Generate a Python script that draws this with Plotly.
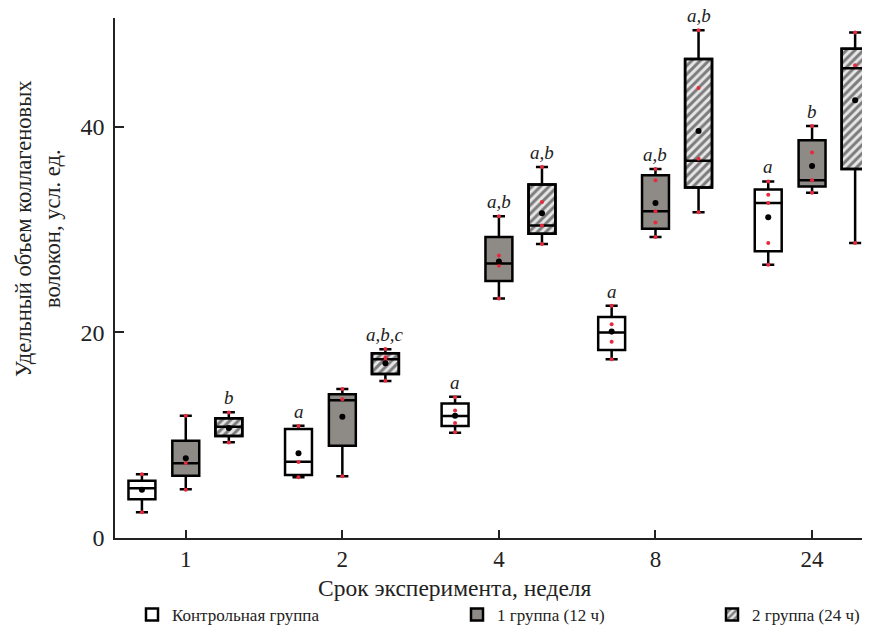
import plotly.graph_objects as go

weeks = ["1", "2", "4", "8", "24"]

ctrl_low = [2.5, 5.9, 10.25, 17.4, 26.6]
ctrl_q1 = [3.77, 6.13, 10.9, 18.3, 27.9]
ctrl_med = [4.84, 7.43, 11.87, 20.0, 32.6]
ctrl_q3 = [5.58, 10.6, 13.1, 21.5, 33.9]
ctrl_up = [6.2, 10.93, 13.75, 22.6, 34.7]
ctrl_mean = [4.7, 8.24, 11.9, 20.1, 31.2]
ctrl_pts = [[6.2, 4.7, 2.5], [10.9, 7.4, 5.9], [13.7, 12.4, 11.2, 10.3],
            [22.6, 20.8, 20.0, 19.1, 17.4], [34.7, 33.4, 32.6, 28.7, 26.6]]
ctrl_sig = ["", "a", "a", "a", "a"]

g1_low = [4.74, 6.0, 23.3, 29.3, 33.6]
g1_q1 = [6.06, 8.98, 25.0, 30.1, 34.2]
g1_med = [7.27, 13.4, 26.7, 31.8, 34.8]
g1_q3 = [9.47, 14.0, 29.3, 35.3, 38.7]
g1_up = [11.9, 14.5, 31.3, 35.9, 40.1]
g1_mean = [7.76, 11.8, 26.9, 32.6, 36.2]
g1_pts = [[11.9, 7.3, 4.7], [14.5, 13.5, 11.8, 6.0], [31.3, 27.5, 26.5, 23.3],
          [35.9, 34.8, 31.8, 30.7, 29.3], [40.1, 37.5, 34.8, 33.6]]
g1_sig = ["", "", "a,b", "a,b", "b"]

g2_low = [9.31, 15.28, 28.6, 31.7, 28.7]
g2_q1 = [9.93, 15.96, 29.6, 34.1, 35.9]
g2_med = [10.83, 17.4, 30.4, 36.7, 45.7]
g2_q3 = [11.65, 17.97, 34.4, 46.6, 47.6]
g2_up = [12.23, 18.36, 36.1, 49.4, 49.2]
g2_mean = [10.7, 17.0, 31.6, 39.6, 42.6]
g2_pts = [[12.2, 10.8, 9.3], [18.4, 17.6, 17.3, 15.3], [36.1, 32.7, 30.4, 28.6],
          [49.4, 43.8, 36.9, 31.7], [49.2, 46.0, 42.6, 28.7]]
g2_sig = ["b", "a,b,c", "a,b", "a,b", ""]

names = ["Контрольная группа", "1 группа (12 ч)", "2 группа (24 ч)"]

FONT = "Liberation Serif, Times New Roman, DejaVu Serif, serif"
# page has an 8px body margin: figure drawn at (8, 8)
PAGE_OFF = 8
W, H = 870 - PAGE_OFF, 634 - PAGE_OFF
PL, PT, PR, PBOT = 115, 18, 870, 538  # plot area in page pixels
L, T = PL - PAGE_OFF, PT - PAGE_OFF
R = W - (PR - PAGE_OFF)
B = H - (PBOT - PAGE_OFF)
pw = PR - PL
ph = PBOT - PT


def xp(X):
    return (X - PL) / pw


def yp(Y):
    return (PBOT - Y) / ph


OFFS = [-0.28, 0.0, 0.275]
BW = 0.172

groups = [
    (ctrl_low, ctrl_q1, ctrl_med, ctrl_q3, ctrl_up, ctrl_mean, ctrl_pts, ctrl_sig, "white"),
    (g1_low, g1_q1, g1_med, g1_q3, g1_up, g1_mean, g1_pts, g1_sig, "#8e8a86"),
    (g2_low, g2_q1, g2_med, g2_q3, g2_up, g2_mean, g2_pts, g2_sig, "rgba(0,0,0,0)"),
]

fig = go.Figure()
annotations = []
for gi, (lo, q1, med, q3, up, mn, pts, sig, fill) in enumerate(groups):
    xs = [i + OFFS[gi] for i in range(len(weeks))]
    legend_name = ["legend", "legend2", "legend3"][gi]
    if gi == 2:
        fig.add_trace(go.Bar(
            x=xs, base=q1, y=[b - a for a, b in zip(q1, q3)], width=BW,
            marker=dict(color="#e6e6e6",
                        pattern=dict(shape="/", fgcolor="#111111", bgcolor="#e6e6e6",
                                     size=6, solidity=0.5),
                        line=dict(color="black", width=2.5)),
            name=names[gi], legend=legend_name, showlegend=True, hoverinfo="skip"))
    fig.add_trace(go.Box(
        x=xs, q1=q1, median=med, q3=q3, lowerfence=lo, upperfence=up,
        width=BW, whiskerwidth=0.45, boxpoints=False,
        fillcolor=fill, line=dict(color="black", width=2.5),
        name=names[gi], legend=legend_name, showlegend=(gi != 2)))
    px, py = [], []
    for i, p in enumerate(pts):
        for v in p:
            px.append(xs[i]); py.append(v)
    fig.add_trace(go.Scatter(x=px, y=py, mode="markers",
                             marker=dict(color="#e8283c", size=4),
                             showlegend=False, hoverinfo="skip"))
    fig.add_trace(go.Scatter(x=xs, y=mn, mode="markers",
                             marker=dict(color="black", size=6),
                             showlegend=False, hoverinfo="skip"))
    for i, s in enumerate(sig):
        if s:
            annotations.append(dict(x=xs[i], y=up[i], xref="x", yref="y",
                                    text="<i>" + s + "</i>", showarrow=False,
                                    yanchor="bottom", yshift=2,
                                    font=dict(family=FONT, size=19, color="#222")))

annotations.append(dict(text="Удельный объем коллагеновых<br>волокон, усл. ед.",
                        xref="paper", yref="paper", x=xp(38), y=yp(229),
                        xanchor="center", yanchor="middle", textangle=-90, showarrow=False,
                        font=dict(family=FONT, size=22.5, color="#222")))
annotations.append(dict(text="Срок эксперимента, неделя",
                        xref="paper", yref="paper", x=xp(455), y=yp(588),
                        xanchor="center", yanchor="middle", showarrow=False,
                        font=dict(family=FONT, size=23.5, color="#222")))

leg_common = dict(orientation="h", yanchor="middle", xanchor="left",
                  font=dict(family=FONT, size=17, color="#222"),
                  bgcolor="rgba(0,0,0,0)", borderwidth=0)
ly = yp(615)
fig.update_layout(
    width=W, height=H,
    margin=dict(l=L, r=R, t=T, b=B, autoexpand=False),
    plot_bgcolor="white", paper_bgcolor="white",
    barmode="overlay", boxmode="overlay",
    font=dict(family=FONT, color="#222"),
    annotations=annotations,
    legend=dict(x=xp(132), y=ly, **leg_common),
    legend2=dict(x=xp(457), y=ly, **leg_common),
    legend3=dict(x=xp(712), y=ly, **leg_common),
    xaxis=dict(range=[-0.452, 4.37], tickmode="array", tickvals=list(range(len(weeks))),
               ticktext=weeks, showline=True, linecolor="#222", linewidth=1.5,
               ticks="inside", ticklen=8, tickwidth=1.5, tickcolor="#222",
               showgrid=False, zeroline=False, ticklabelstandoff=0,
               tickfont=dict(family=FONT, size=23, color="#222")),
    yaxis=dict(range=[0, 50.6], tickvals=[0, 20, 40], showline=True, linecolor="#222",
               linewidth=1.5, ticks="inside", ticklen=9, tickwidth=1.5, tickcolor="#222",
               showgrid=False, zeroline=False, ticklabelstandoff=4,
               tickfont=dict(family=FONT, size=24, color="#222")),
)

fig.write_html("out.html")
